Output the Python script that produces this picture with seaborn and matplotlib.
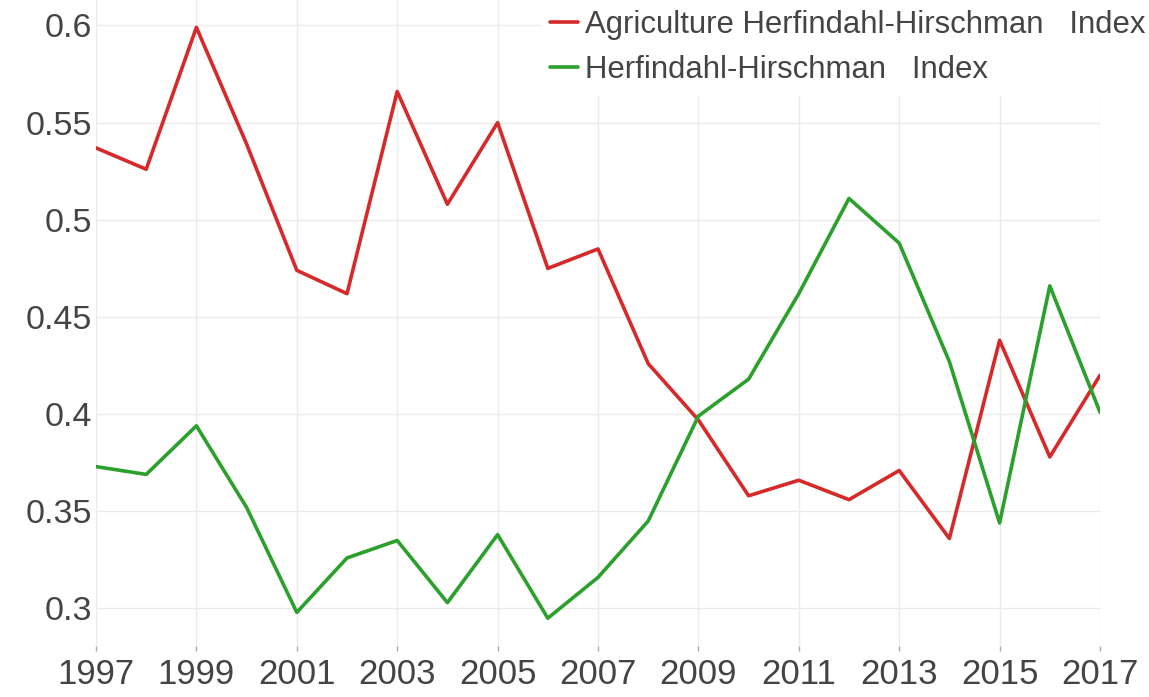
import numpy as np
import pandas as pd
import matplotlib
matplotlib.use("Agg")
import matplotlib.pyplot as plt
import seaborn as sns

years = list(range(1997, 2018))
agri_hhi = [0.537, 0.526, 0.599, 0.539, 0.474, 0.462, 0.566, 0.508, 0.550, 0.475,
            0.485, 0.426, 0.397, 0.358, 0.366, 0.356, 0.371, 0.336, 0.438, 0.378, 0.420]
hhi = [0.373, 0.369, 0.394, 0.352, 0.298, 0.326, 0.335, 0.303, 0.338, 0.295,
       0.316, 0.345, 0.399, 0.418, 0.462, 0.511, 0.488, 0.427, 0.344, 0.466, 0.401]
series_names = ["Agriculture Herfindahl-Hirschman   Index", "Herfindahl-Hirschman   Index"]
colors = ["#d62a2a", "#2ca02c"]
x_ticks = list(range(1997, 2018, 2))
y_ticks = [0.3, 0.35, 0.4, 0.45, 0.5, 0.55, 0.6]
y_tick_labels = ["0.3", "0.35", "0.4", "0.45", "0.5", "0.55", "0.6"]

df = pd.DataFrame({
    "year": years * 2,
    "value": agri_hhi + hhi,
    "series": [series_names[0]] * len(years) + [series_names[1]] * len(years),
})

sns.set_theme(style="white")
plt.rcParams["font.family"] = ["Liberation Sans", "DejaVu Sans"]

fig = plt.figure(figsize=(11.49, 6.97), dpi=100)
ax = fig.add_axes([96 / 1149, 51 / 697, (1100 - 96) / 1149, (697 - 51) / 697])

sns.lineplot(data=df, x="year", y="value", hue="series", palette=colors,
             hue_order=series_names, linewidth=2.6, ax=ax)

ax.set_xlim(1997, 2017)
ax.set_ylim(0.2807, 0.6131)
ax.set_xticks(x_ticks)
ax.set_xticklabels([str(t) for t in x_ticks])
ax.set_yticks(y_ticks)
ax.set_yticklabels(y_tick_labels)
ax.grid(True, color="#ebebeb", linewidth=1.0)
ax.set_axisbelow(True)
for s in ax.spines.values():
    s.set_visible(False)
ax.set_xlabel("")
ax.set_ylabel("")
ax.tick_params(axis="x", colors="#444444", labelsize=25, length=3.6, width=1,
               bottom=True, pad=5, color="#aaaaaa")
ax.tick_params(axis="y", colors="#444444", labelsize=24.5, length=0, pad=3)

leg = ax.legend(loc="upper left", bbox_to_anchor=(541 / 1149, 1 - 1 / 697),
                bbox_transform=fig.transFigure, frameon=True,
                fontsize=22.4, handlelength=0.9, handletextpad=0.22,
                labelspacing=0.48, borderaxespad=0.0, borderpad=0.3)
leg.get_frame().set_facecolor("white")
leg.get_frame().set_edgecolor("white")
leg.get_frame().set_alpha(1.0)
leg.get_frame().set_boxstyle("square", pad=0.0)
for t in leg.get_texts():
    t.set_color("#444444")
for l in leg.get_lines():
    l.set_linewidth(2.6)

fig.savefig("out.png", dpi=100)
